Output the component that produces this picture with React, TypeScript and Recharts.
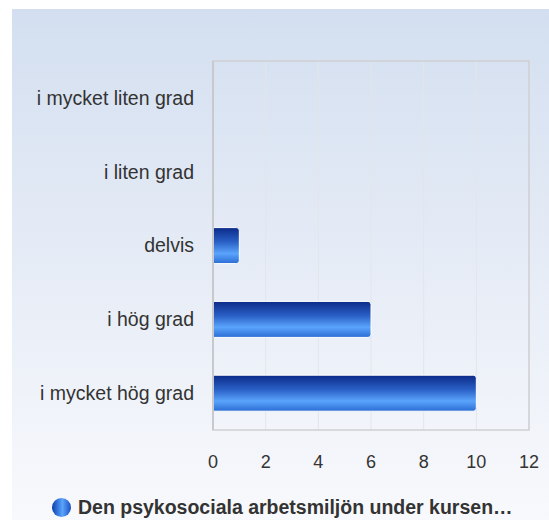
import React from 'react';
import { BarChart, Bar, XAxis, YAxis, CartesianGrid, ReferenceArea } from 'recharts';

const categories = ['i mycket liten grad', 'i liten grad', 'delvis', 'i hög grad', 'i mycket hög grad'];
const counts = [0, 0, 1, 6, 10];
const xTicks = [0, 2, 4, 6, 8, 10, 12];
const seriesName = 'Den psykosociala arbetsmiljön under kursen…';

const data = categories.map((name, i) => ({ name, count: counts[i] }));

const font = '"Liberation Sans", Arial, sans-serif';

export default function App() {
    return (
        <div style={{ position: 'absolute', left: 0, top: 0, width: 549, height: 520, background: '#fff', fontFamily: font }}>
            <div
                style={{
                    position: 'absolute',
                    left: 12,
                    top: 9,
                    width: 537,
                    height: 511,
                    background: 'linear-gradient(to bottom, #d3dff0 0%, #e6ecf6 50%, #f8f9fc 100%)'
                }}
            />
            <div style={{ position: 'absolute', left: 0, top: 0 }}>
                <BarChart
                    width={549}
                    height={520}
                    data={data}
                    layout="vertical"
                    margin={{ top: 61, right: 20, bottom: 60, left: 0 }}
                >
                    <defs>
                        <linearGradient id="barFill" x1="0" y1="0" x2="0" y2="1">
                            <stop offset="0%" stopColor="#0b2a88" />
                            <stop offset="40%" stopColor="#2a60c6" />
                            <stop offset="72%" stopColor="#5aa4fc" />
                            <stop offset="100%" stopColor="#2b6dd4" />
                        </linearGradient>
                    </defs>
                    <CartesianGrid horizontal={false} stroke="#e3e5ea" />
                    <ReferenceArea x1={0} x2={12} fill="none" stroke="#cfd0d3" strokeWidth={1.5} ifOverflow="visible" />
                    <XAxis
                        type="number"
                        domain={[0, 12]}
                        ticks={xTicks}
                        axisLine={false}
                        tickLine={false}
                        tickSize={0}
                        tickMargin={25}
                        height={30}
                        tick={{ fill: '#333', fontSize: 18, fontFamily: font }}
                    />
                    <YAxis
                        type="category"
                        dataKey="name"
                        width={213}
                        tickLine={false}
                        tickSize={0}
                        tickMargin={19}
                        axisLine={{ stroke: '#c8c9cc', strokeWidth: 2 }}
                        tick={{ fill: '#333', fontSize: 19.5, fontFamily: font }}
                    />
                    <Bar
                        dataKey="count"
                        fill="url(#barFill)"
                        stroke="#fff"
                        strokeWidth={1}
                        barSize={36}
                        radius={[0, 3, 3, 0]}
                        isAnimationActive={false}
                    />
                </BarChart>
            </div>
            <div
                style={{
                    position: 'absolute',
                    left: 52,
                    top: 497,
                    display: 'flex',
                    alignItems: 'center',
                    gap: 7,
                    whiteSpace: 'nowrap'
                }}
            >
                <span
                    style={{
                        width: 19,
                        height: 19,
                        borderRadius: '50%',
                        background: 'linear-gradient(to right, #0b3fb0 0%, #5aa4fc 55%, #1c4fc0 100%)',
                        display: 'inline-block'
                    }}
                />
                <span style={{ fontWeight: 'bold', fontSize: 19.5, color: '#333', lineHeight: '20px' }}>{seriesName}</span>
            </div>
        </div>
    );
}
